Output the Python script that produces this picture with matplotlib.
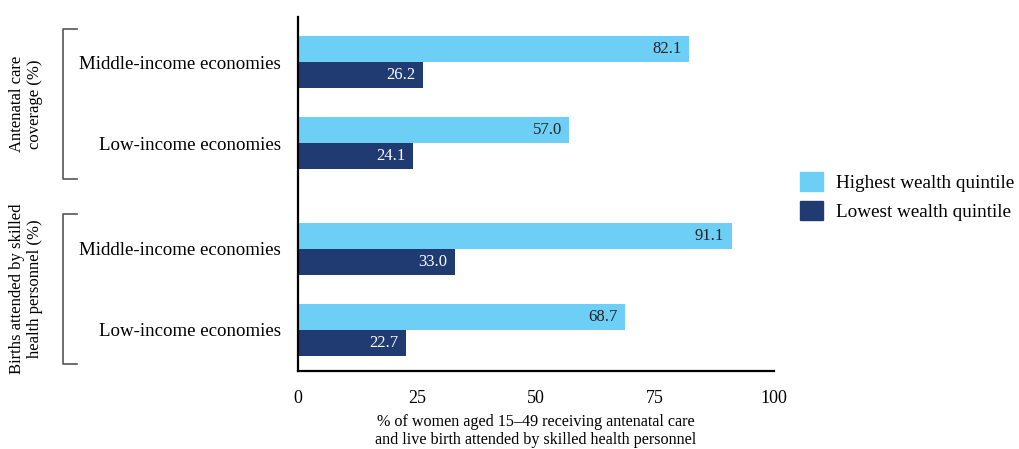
import numpy as np
import matplotlib as mpl
import matplotlib.pyplot as plt
from matplotlib.patches import Patch
from matplotlib.lines import Line2D

mpl.rcParams['font.family'] = ['Liberation Serif', 'DejaVu Serif']

categories = ['Middle-income economies', 'Low-income economies',
              'Middle-income economies', 'Low-income economies']
groups = ['Antenatal care\ncoverage (%)', 'Births attended by skilled\nhealth personnel (%)']
highest = [82.1, 57.0, 91.1, 68.7]
lowest = [26.2, 24.1, 33.0, 22.7]
xticks = [0, 25, 50, 75, 100]

c_hi = '#6dcff6'
c_lo = '#203a72'

fig = plt.figure(figsize=(10.19, 4.49), dpi=100)
ax = fig.add_axes([0.2924, 0.1737, 0.4672, 0.7884])

pos = np.array([0, 1, 2.3, 3.3])
h = 0.32
ax.barh(pos - h/2, highest, height=h, color=c_hi, label='Highest wealth quintile')
ax.barh(pos + h/2, lowest, height=h, color=c_lo, label='Lowest wealth quintile')

for p, v in zip(pos, highest):
    ax.text(v - 1.6, p - h/2, f'{v:.1f}', ha='right', va='center', fontsize=12, color='#222222')
for p, v in zip(pos, lowest):
    ax.text(v - 1.6, p + h/2, f'{v:.1f}', ha='right', va='center', fontsize=12, color='white')

ax.set_xlim(0, 100)
ax.set_ylim(3.3 + 0.51, -0.56)
ax.set_xticks(xticks)
ax.set_xticklabels([str(t) for t in xticks], fontsize=13)
ax.set_yticks(pos)
ax.set_yticklabels(categories, fontsize=13.6)
ax.tick_params(axis='both', length=0)
ax.tick_params(axis='x', pad=14)
ax.tick_params(axis='y', pad=12.5)
for s in ['top', 'right']:
    ax.spines[s].set_visible(False)
for s in ['left', 'bottom']:
    ax.spines[s].set_linewidth(1.6)
    ax.spines[s].set_color('black')

ax.set_xlabel('% of women aged 15\u201349 receiving antenatal care\nand live birth attended by skilled health personnel',
              fontsize=11.6, labelpad=4.5, linespacing=1.2)

# group brackets (figure pixels)
def px(x, y):
    return x / 1019, 1 - y / 449

for (y0, y1, yc), g in zip([(29, 179, 104), (214, 364, 289)], groups):
    xs, ys = zip(*[px(77, y0), px(63, y0), px(63, y1), px(77, y1)])
    fig.add_artist(Line2D(xs, ys, color='#555555', lw=1.2))
    fig.text(*px(26, yc), g, rotation=90, ha='center', va='center', fontsize=12, linespacing=1.15)

fig.legend(handles=[Patch(color=c_hi, label='Highest wealth quintile'),
                    Patch(color=c_lo, label='Lowest wealth quintile')],
           loc='center left', bbox_to_anchor=(0.785, 0.563), frameon=False,
           fontsize=13.8, handlelength=1.2, handleheight=1.2, handletextpad=0.7, labelspacing=0.45,
           borderaxespad=0, borderpad=0)

plt.savefig('out.png', dpi=100)
